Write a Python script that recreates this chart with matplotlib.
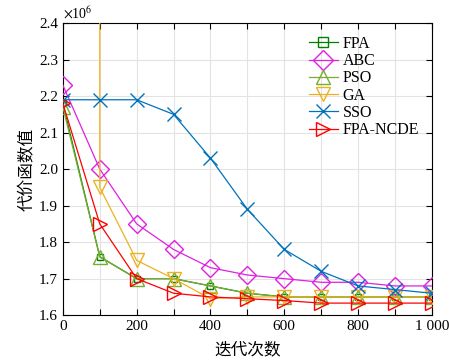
import numpy as np
import matplotlib
matplotlib.use('Agg')
import matplotlib.pyplot as plt
from matplotlib.ticker import FuncFormatter, MultipleLocator

plt.rcParams['font.family'] = ['Liberation Serif', 'Noto Sans CJK SC']
plt.rcParams['mathtext.fontset'] = 'stix'

# iterations and cost values (x10^6)
iters = [0, 100, 200, 300, 400, 500, 600, 700, 800, 900, 1000]
fpa = [2.18, 1.76, 1.70, 1.70, 1.68, 1.66, 1.65, 1.65, 1.65, 1.65, 1.65]
abc = [2.23, 2.00, 1.85, 1.78, 1.73, 1.71, 1.70, 1.69, 1.69, 1.68, 1.68]
pso = [2.17, 1.76, 1.70, 1.70, 1.68, 1.66, 1.65, 1.65, 1.65, 1.65, 1.65]
ga_iters = [100, 100, 200, 300, 400, 500, 600, 700, 800, 900, 1000]
ga = [2.60, 1.95, 1.75, 1.70, 1.645, 1.65, 1.65, 1.65, 1.65, 1.65, 1.65]
sso = [2.19, 2.19, 2.19, 2.15, 2.03, 1.89, 1.78, 1.72, 1.68, 1.67, 1.66]
ncde = [2.18, 1.85, 1.70, 1.66, 1.65, 1.645, 1.64, 1.633, 1.633, 1.633, 1.633]

fig = plt.figure(figsize=(4.49, 3.61), dpi=100)
ax = fig.add_axes([0.140, 0.127, 0.822, 0.809])

kw = dict(linewidth=0.9, markerfacecolor='none', markeredgewidth=1.0)
ax.plot(iters, fpa, color='#008000', marker='s', markersize=4, label='FPA', zorder=2, **kw)
ax.plot(iters, abc, color='#E020E0', marker='D', markersize=9, label='ABC', zorder=3, **kw)
ax.plot(iters, pso, color='#77AC30', marker='^', markersize=10, label='PSO', zorder=3, **kw)
ax.plot(ga_iters, ga, color='#EDB120', marker='v', markersize=10, label='GA',
        markevery=list(range(1, len(ga))), zorder=3, **kw)
ax.plot(iters, sso, color='#0072BD', marker='x', markersize=10, label='SSO', zorder=3, **kw)
ax.plot(iters, ncde, color='#FF0000', marker='>', markersize=10, label='FPA-NCDE', zorder=4, **kw)

ax.set_xlim(0, 1000)
ax.set_ylim(1.6, 2.4)
ax.xaxis.set_major_locator(MultipleLocator(100))
ax.yaxis.set_major_locator(MultipleLocator(0.1))


def xfmt(v, pos):
    v = int(round(v))
    if v % 200:
        return ''
    if v >= 1000:
        return '1 000'
    return str(v)


ax.xaxis.set_major_formatter(FuncFormatter(xfmt))
ax.yaxis.set_major_formatter(FuncFormatter(lambda v, p: f'{v:.1f}'))
ax.tick_params(direction='in', top=True, right=True, labelsize=11, length=4, width=0.8)
ax.grid(True, color='#E3E3E3', linewidth=0.8)
ax.set_axisbelow(True)
for s in ax.spines.values():
    s.set_linewidth(0.8)

ax.text(0.0, 1.005, r'$\times$10$^{6}$', transform=ax.transAxes, fontsize=10,
        ha='left', va='bottom')
ax.set_xlabel('迭代次数', fontsize=12, labelpad=7)
ax.set_ylabel('代价函数值', fontsize=12, labelpad=2)

leg = ax.legend(loc='upper right', frameon=False, fontsize=11.5, handlelength=1.8,
                handletextpad=0.3, labelspacing=0.08, borderpad=0.3,
                bbox_to_anchor=(1.0, 1.0))
for h in leg.legend_handles:
    h.set_markersize(10)
leg.legend_handles[0].set_markersize(7)

fig.savefig('out.png', dpi=100)
